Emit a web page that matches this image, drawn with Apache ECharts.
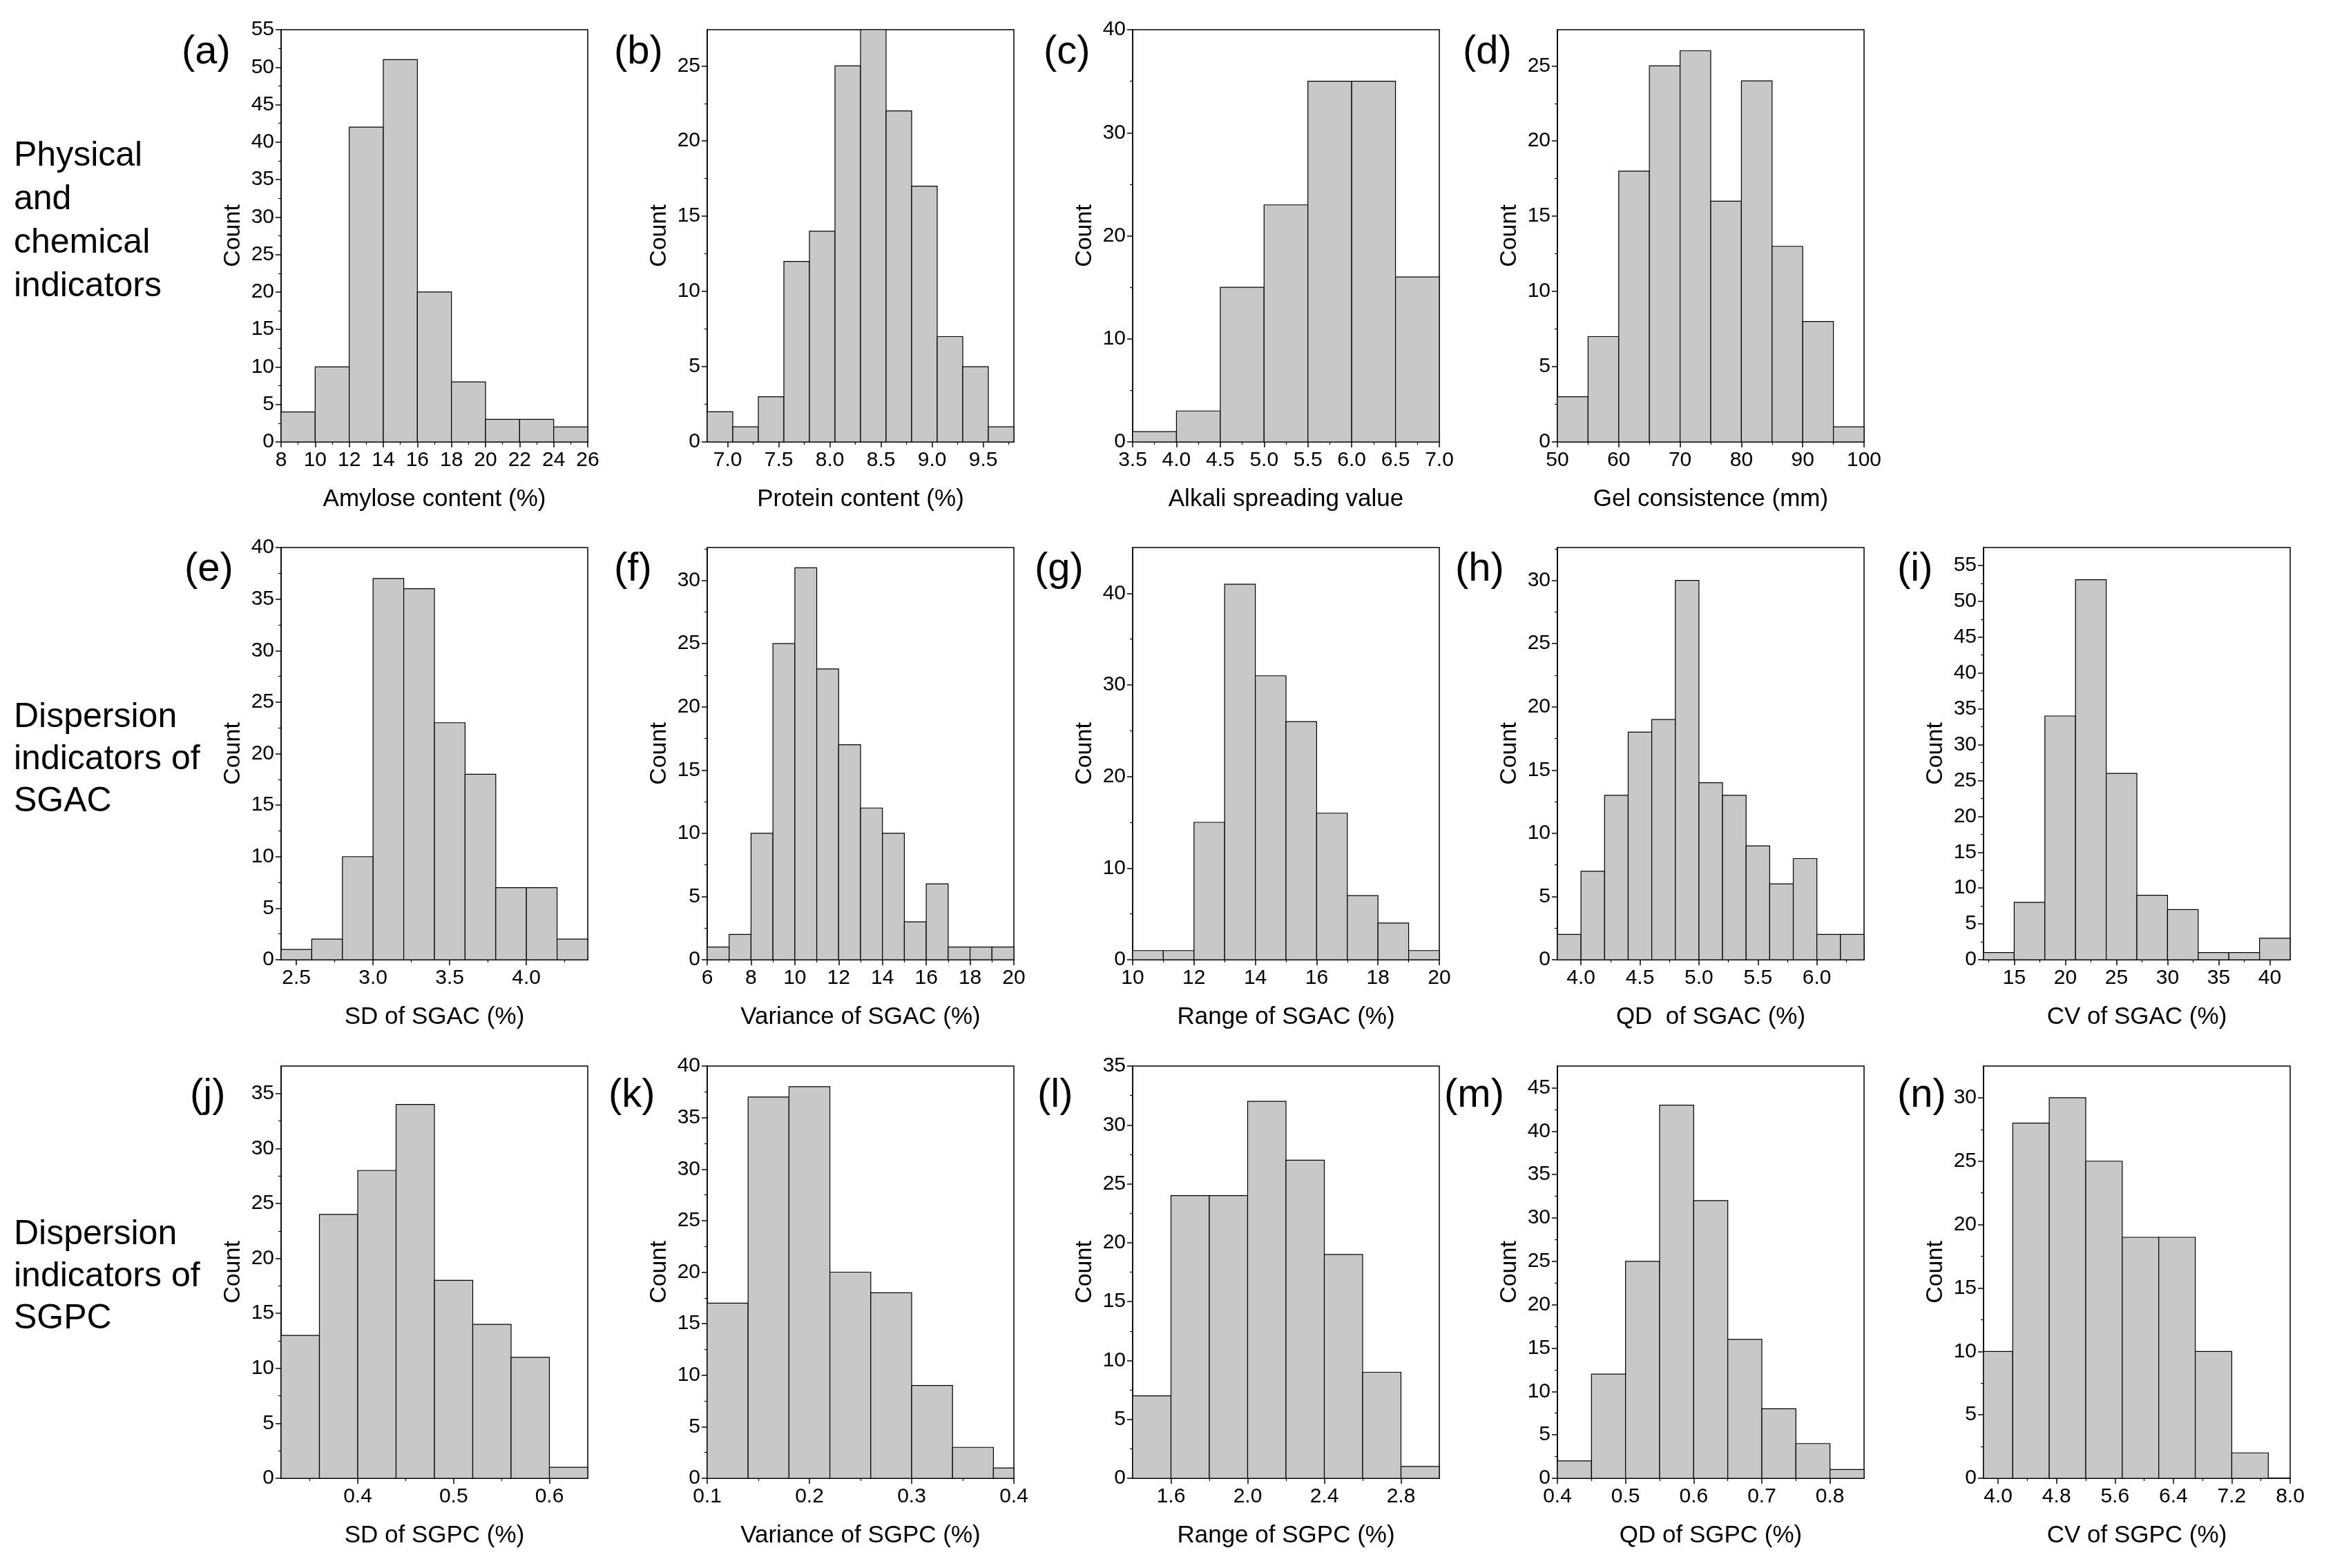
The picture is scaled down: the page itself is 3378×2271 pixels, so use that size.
<!DOCTYPE html>
<html><head><meta charset="utf-8">
<script src="https://cdn.jsdelivr.net/npm/echarts@6/dist/echarts.min.js"></script>
<style>html,body{margin:0;padding:0;background:#fff}#c{width:3378px;height:2271px}</style>
</head><body><div id="c"></div>
<script>
// ---------- data ----------
const amyloseEdges = [8,10,12,14,16,18,20,22,24,26];
const amyloseCounts = [4,10,42,51,20,8,3,3,2];
const amyloseXTicks = [8,10,12,14,16,18,20,22,24,26];
const amyloseYTicks = [0,5,10,15,20,25,30,35,40,45,50,55];

const proteinEdges = [6.8,7.05,7.3,7.55,7.8,8.05,8.3,8.55,8.8,9.05,9.3,9.55,9.8];
const proteinCounts = [2,1,3,12,14,25,28,22,17,7,5,1];
const proteinXTicks = [7.0,7.5,8.0,8.5,9.0,9.5];
const proteinYTicks = [0,5,10,15,20,25];

const alkaliEdges = [3.5,4.0,4.5,5.0,5.5,6.0,6.5,7.0];
const alkaliCounts = [1,3,15,23,35,35,16];
const alkaliXTicks = [3.5,4.0,4.5,5.0,5.5,6.0,6.5,7.0];
const alkaliYTicks = [0,10,20,30,40];

const gelEdges = [50,55,60,65,70,75,80,85,90,95,100];
const gelCounts = [3,7,18,25,26,16,24,13,8,1];
const gelXTicks = [50,60,70,80,90,100];
const gelYTicks = [0,5,10,15,20,25];

const sdSgacEdges = [2.4,2.6,2.8,3.0,3.2,3.4,3.6,3.8,4.0,4.2,4.4];
const sdSgacCounts = [1,2,10,37,36,23,18,7,7,2];
const sdSgacXTicks = [2.5,3.0,3.5,4.0];
const sdSgacYTicks = [0,5,10,15,20,25,30,35,40];

const varSgacEdges = [6,7,8,9,10,11,12,13,14,15,16,17,18,19,20];
const varSgacCounts = [1,2,10,25,31,23,17,12,10,3,6,1,1,1];
const varSgacXTicks = [6,8,10,12,14,16,18,20];
const varSgacYTicks = [0,5,10,15,20,25,30];

const rangeSgacEdges = [10,11,12,13,14,15,16,17,18,19,20];
const rangeSgacCounts = [1,1,15,41,31,26,16,7,4,1];
const rangeSgacXTicks = [10,12,14,16,18,20];
const rangeSgacYTicks = [0,10,20,30,40];

const qdSgacEdges = [3.8,4.0,4.2,4.4,4.6,4.8,5.0,5.2,5.4,5.6,5.8,6.0,6.2,6.4];
const qdSgacCounts = [2,7,13,18,19,30,14,13,9,6,8,2,2];
const qdSgacXTicks = [4.0,4.5,5.0,5.5,6.0];
const qdSgacYTicks = [0,5,10,15,20,25,30];

const cvSgacEdges = [12,15,18,21,24,27,30,33,36,39,42];
const cvSgacCounts = [1,8,34,53,26,9,7,1,1,3];
const cvSgacXTicks = [15,20,25,30,35,40];
const cvSgacYTicks = [0,5,10,15,20,25,30,35,40,45,50,55];

const sdSgpcEdges = [0.32,0.36,0.40,0.44,0.48,0.52,0.56,0.60,0.64];
const sdSgpcCounts = [13,24,28,34,18,14,11,1];
const sdSgpcXTicks = [0.4,0.5,0.6];
const sdSgpcYTicks = [0,5,10,15,20,25,30,35];

const varSgpcEdges = [0.10,0.14,0.18,0.22,0.26,0.30,0.34,0.38,0.42];
const varSgpcCounts = [17,37,38,20,18,9,3,1];
const varSgpcXTicks = [0.1,0.2,0.3,0.4];
const varSgpcYTicks = [0,5,10,15,20,25,30,35,40];

const rangeSgpcEdges = [1.4,1.6,1.8,2.0,2.2,2.4,2.6,2.8,3.0];
const rangeSgpcCounts = [7,24,24,32,27,19,9,1];
const rangeSgpcXTicks = [1.6,2.0,2.4,2.8];
const rangeSgpcYTicks = [0,5,10,15,20,25,30,35];

const qdSgpcEdges = [0.40,0.45,0.50,0.55,0.60,0.65,0.70,0.75,0.80,0.85];
const qdSgpcCounts = [2,12,25,43,32,16,8,4,1];
const qdSgpcXTicks = [0.4,0.5,0.6,0.7,0.8];
const qdSgpcYTicks = [0,5,10,15,20,25,30,35,40,45];

const cvSgpcEdges = [3.7,4.2,4.7,5.2,5.7,6.2,6.7,7.2,7.7];
const cvSgpcCounts = [10,28,30,25,19,19,10,2];
const cvSgpcXTicks = [4.0,4.8,5.6,6.4,7.2,8.0];
const cvSgpcYTicks = [0,5,10,15,20,25,30];

const panelLetters = ['(a)','(b)','(c)','(d)','(e)','(f)','(g)','(h)','(i)','(j)','(k)','(l)','(m)','(n)'];
const xNames = ['Amylose content (%)','Protein content (%)','Alkali spreading value','Gel consistence (mm)',
  'SD of SGAC (%)','Variance of SGAC (%)','Range of SGAC (%)','QD  of SGAC (%)','CV of SGAC (%)',
  'SD of SGPC (%)','Variance of SGPC (%)','Range of SGPC (%)','QD of SGPC (%)','CV of SGPC (%)'];
const rowLabels = [['Physical','and','chemical','indicators'],['Dispersion','indicators of','SGAC'],['Dispersion','indicators of','SGPC']];

// axis extents
const xRanges = [[8,26],[6.8,9.8],[3.5,7.0],[50,100],[2.4,4.4],[6,20],[10,20],[3.8,6.4],[12,42],
  [0.32,0.64],[0.1,0.4],[1.4,3.0],[0.4,0.85],[3.8,8.0]];
const yMaxes = [55,27.4,40,27.4,40,32.6,45,32.6,57.5,37.5,40,35,47.5,32.5];
const xDecimals = [0,1,1,0,1,0,0,1,0,1,1,1,1,1];

const allEdges = [amyloseEdges,proteinEdges,alkaliEdges,gelEdges,sdSgacEdges,varSgacEdges,rangeSgacEdges,qdSgacEdges,cvSgacEdges,sdSgpcEdges,varSgpcEdges,rangeSgpcEdges,qdSgpcEdges,cvSgpcEdges];
const allCounts = [amyloseCounts,proteinCounts,alkaliCounts,gelCounts,sdSgacCounts,varSgacCounts,rangeSgacCounts,qdSgacCounts,cvSgacCounts,sdSgpcCounts,varSgpcCounts,rangeSgpcCounts,qdSgpcCounts,cvSgpcCounts];
const allXTicks = [amyloseXTicks,proteinXTicks,alkaliXTicks,gelXTicks,sdSgacXTicks,varSgacXTicks,rangeSgacXTicks,qdSgacXTicks,cvSgacXTicks,sdSgpcXTicks,varSgpcXTicks,rangeSgpcXTicks,qdSgpcXTicks,cvSgpcXTicks];
const allYTicks = [amyloseYTicks,proteinYTicks,alkaliYTicks,gelYTicks,sdSgacYTicks,varSgacYTicks,rangeSgacYTicks,qdSgacYTicks,cvSgacYTicks,sdSgpcYTicks,varSgpcYTicks,rangeSgpcYTicks,qdSgpcYTicks,cvSgpcYTicks];

// ---------- layout ----------
const colLeft = [407,1024,1640,2255,2872];
const rowTop = [43,793,1544];
const PW = 444, PH = 597;
const panelPos = [[0,0],[0,1],[0,2],[0,3],[1,0],[1,1],[1,2],[1,3],[1,4],[2,0],[2,1],[2,2],[2,3],[2,4]];
const letterLeft = [263,889,1511,2118,267,889,1498,2107,2747,275,881,1502,2091,2747];
const letterY = [81,830,1592];
const rowLabelY = [[228,63],[1041,61],[1790,61]];

const FONT = "'Liberation Sans', Arial, sans-serif";

function minors(ticks, lo, hi){
  const step = ticks.length>1 ? ticks[1]-ticks[0] : 1;
  const out = [];
  for (let i=-1;i<ticks.length;i++){
    const m = (i<0 ? ticks[0]-step/2 : ticks[i]+step/2);
    if (m>lo+1e-9 && m<hi-1e-9) out.push(+m.toFixed(6));
  }
  return out;
}

const grids=[], xAxes=[], yAxes=[], series=[], graphics=[];
panelPos.forEach((rc,p)=>{
  const left = colLeft[rc[1]], top = rowTop[rc[0]];
  const g0 = grids.length;
  grids.push({left, top, width:PW, height:PH, show:true, borderColor:'#000', borderWidth:1.5, backgroundColor:'transparent', containLabel:false});
  grids.push({left, top, width:PW, height:PH, show:false, containLabel:false});
  const [xmin,xmax] = xRanges[p];
  const dec = xDecimals[p];
  xAxes.push({type:'value', gridIndex:g0, min:xmin, max:xmax,
    name:xNames[p], nameLocation:'middle', nameGap:66,
    nameTextStyle:{fontSize:35, fontFamily:FONT, color:'#000'},
    axisLine:{show:true, onZero:false, lineStyle:{color:'#000', width:1.5}},
    axisTick:{show:true, inside:false, length:8, customValues:allXTicks[p], lineStyle:{color:'#000', width:1.5}},
    axisLabel:{show:true, customValues:allXTicks[p], margin:12, fontSize:30, fontFamily:FONT, color:'#000',
      formatter:v=>Number(v).toFixed(dec)},
    splitLine:{show:false}});
  xAxes.push({type:'value', gridIndex:g0+1, min:xmin, max:xmax,
    axisLine:{show:false, onZero:false},
    axisTick:{show:true, inside:false, length:4, customValues:minors(allXTicks[p],xmin,xmax), lineStyle:{color:'#000', width:1.2}},
    axisLabel:{show:false}, splitLine:{show:false}});
  const ymax = yMaxes[p];
  yAxes.push({type:'value', gridIndex:g0, min:0, max:ymax,
    name:'Count', nameLocation:'middle', nameGap:52,
    nameTextStyle:{fontSize:34, fontFamily:FONT, color:'#000'},
    axisLine:{show:true, onZero:false, lineStyle:{color:'#000', width:1.5}},
    axisTick:{show:true, inside:false, length:8, customValues:allYTicks[p], lineStyle:{color:'#000', width:1.5}},
    axisLabel:{show:true, customValues:allYTicks[p], margin:10, fontSize:30, fontFamily:FONT, color:'#000',
      formatter:v=>String(Math.round(v))},
    splitLine:{show:false}});
  yAxes.push({type:'value', gridIndex:g0+1, min:0, max:ymax,
    axisLine:{show:false, onZero:false},
    axisTick:{show:true, inside:false, length:4, customValues:minors(allYTicks[p],0,ymax), lineStyle:{color:'#000', width:1.2}},
    axisLabel:{show:false}, splitLine:{show:false}});
  const data = allCounts[p].map((c,i)=>[allEdges[p][i], allEdges[p][i+1], c]);
  series.push({type:'custom', xAxisIndex:g0, yAxisIndex:g0, data, encode:{x:[0,1], y:2},
    renderItem:(params, api)=>{
      const a = api.coord([api.value(0), api.value(2)]);
      const b = api.coord([api.value(1), 0]);
      const cs = params.coordSys;
      const r = echarts.graphic.clipRectByRect({x:a[0], y:a[1], width:b[0]-a[0], height:b[1]-a[1]},
        {x:cs.x, y:cs.y, width:cs.width, height:cs.height});
      return r && {type:'rect', shape:r, style:{fill:'#c8c8c8', stroke:'#000', lineWidth:1.2}};
    }});
  graphics.push({type:'text', left:letterLeft[p], top:letterY[rc[0]]-34,
    style:{text:panelLetters[p], fontSize:58, fontFamily:FONT, fill:'#000'}});
});
rowLabels.forEach((lines,r)=>{
  lines.forEach((t,i)=>{
    graphics.push({type:'text', left:20, top:rowLabelY[r][0]+i*rowLabelY[r][1]-27,
      style:{text:t, fontSize:50, fontFamily:FONT, fill:'#000'}});
  });
});

const chart = echarts.init(document.getElementById('c'), null, {renderer:'canvas'});
chart.setOption({
  backgroundColor:'#fff', animation:false,
  grid:grids, xAxis:xAxes, yAxis:yAxes, series, graphic:graphics
});
</script></body></html>
